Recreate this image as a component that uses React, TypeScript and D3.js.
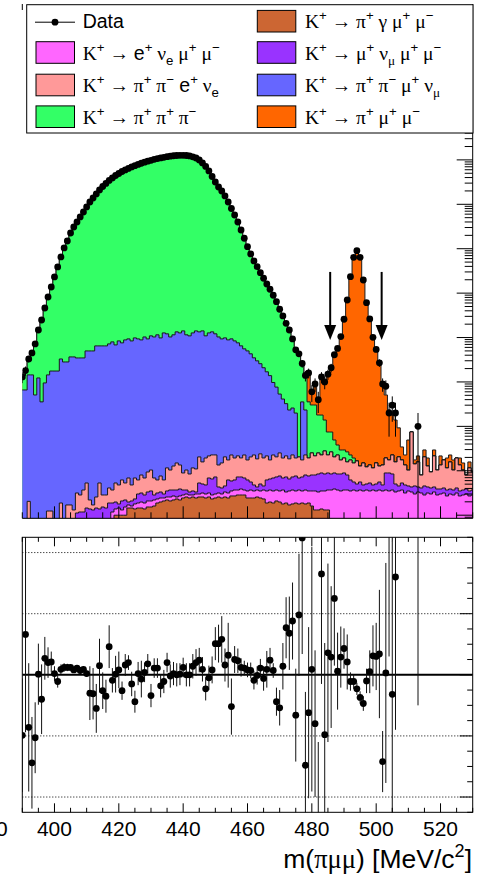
import React from 'react';
import * as d3 from 'd3';

// ---------- DATA (one bin per MeV/c^2, centred on 390 ... 530) ----------
const BIN_LO = 390;
const BIN_HI = 530;
const masses = d3.range(BIN_LO, BIN_HI + 1);

const dataCounts = [
  13, 18, 33, 45, 72, 148, 248, 463, 819, 1374,
  2312, 3882, 6517, 10400, 14930, 22600, 30800, 40000, 51900, 67100,
  87100, 112700, 138700, 171000, 210400, 251800, 294400, 344400, 391700, 445700,
  494300, 548200, 593000, 641200, 693500, 741300, 788900, 839500, 889200, 935400,
  979500, 1028000, 1071000, 1109000, 1145000, 1181000, 1213000, 1239000, 1256000, 1270000,
  1270000, 1256000, 1225000, 1175000, 1104000, 995000, 853000, 711000, 563000, 423000,
  318000, 245500, 199500, 154000, 112700, 80500, 57500, 40000, 26400, 17200,
  11100, 7620, 5300, 3945, 2885, 2160, 1607, 1222, 895, 641,
  433, 306, 209, 148, 93, 53, 43, 26, 14, 16,
  6, 9, 4, 13, 10, 15, 21, 41, 57, 105,
  258, 701, 2346, 6412, 9036, 6390, 1977, 609, 262, 101,
  54, 27, 9, 8, 2, 3, 2, 0, 0, 0,
  0, 0, 0, 1, 0, 0, 0, 0, 0, 0,
  0, 0, 0, 0, 0, 0, 0, 0, 0, 0,
  0,
];

const piGammaMuMu = [
  0, 0, 0, 0, 0, 0, 0, 0, 0, 0,
  0, 0, 0, 0, 0, 0, 0, 0, 0, 0,
  0, 0, 0, 0, 0, 0, 0, 0, 0, 0.010,
  0.010, 0.010, 0.010, 0.0145, 0.0145, 0.0138, 0.0145, 0.0145, 0.0138, 0.0153,
  0.0153, 0.0161, 0.0188, 0.0198, 0.0209, 0.022, 0.0209, 0.022, 0.0232, 0.022,
  0.0244, 0.0257, 0.0244, 0.0257, 0.0244, 0.0257, 0.0257, 0.0244, 0.0257, 0.0232,
  0.0244, 0.0257, 0.0244, 0.0257, 0.0244, 0.0271, 0.0271, 0.0285, 0.0285, 0.0285,
  0.0244, 0.0244, 0.0244, 0.0257, 0.0244, 0.0232, 0.0188, 0.0198, 0.0188, 0.0209,
  0.0198, 0.0179, 0.0188, 0.0170, 0.0179, 0.0188, 0.0179, 0.0188, 0.0179, 0.0188,
  0.0161, 0.0131, 0.0131, 0.0138, 0.0131, 0.0131, 0, 0, 0, 0,
  0, 0, 0, 0, 0, 0, 0, 0, 0, 0,
  0, 0, 0, 0, 0, 0, 0, 0, 0, 0,
  0, 0, 0, 0, 0, 0, 0, 0, 0, 0,
  0, 0, 0, 0, 0, 0, 0, 0, 0, 0,
  0,
];

const eNuMuMu = [
  0, 0, 0, 0, 0, 0, 0, 0, 0, 0,
  0, 0, 0, 0, 0, 0, 0, 0, 0, 0,
  0, 0, 0, 0, 0, 0, 0, 0, 0.0118, 0.0038,
  0.0045, 0.0031, 0.0053, 0.0025, 0.0016, 0.0041, 0.0043, 0.0053, 0.005, 0.0056,
  0.0056, 0.0059, 0.0044, 0.0046, 0.0035, 0.0037, 0.0048, 0.0051, 0.0025, 0.0051,
  0.0041, 0.0043, 0.0041, 0.0028, 0.0056, 0.0043, 0.0059, 0.0056, 0.0059, 0.0053,
  0.0056, 0.0059, 0.0056, 0.0076, 0.0072, 0.008, 0.0098, 0.0084, 0.0104, 0.0084,
  0.0107, 0.0125, 0.0107, 0.0112, 0.0107, 0.0137, 0.0163, 0.0171, 0.0163, 0.016,
  0.0153, 0.019, 0.0145, 0.0181, 0.019, 0.0163, 0.019, 0.0163, 0.019, 0.0163,
  0.019, 0.022, 0.0202, 0.0213, 0.022, 0.0238, 0.0369, 0.0389, 0.0369, 0.0351,
  0.0369, 0.0369, 0.0351, 0.0369, 0.0351, 0.0369, 0.0351, 0.0369, 0.0351, 0.0369,
  0.0351, 0.0369, 0.0351, 0.0369, 0.0351, 0.0369, 0.0333, 0.0351, 0.0369, 0.0316,
  0.0351, 0.0333, 0.030, 0.0333, 0.0316, 0.0285, 0.0316, 0.030, 0.0333, 0.0285,
  0.030, 0.0316, 0.0271, 0.030, 0.0285, 0.0316, 0.0271, 0.0285, 0.030, 0.0271,
  0.0285,
];

const muNuMuMu = [
  0, 0, 0, 0, 0, 0, 0, 0, 0, 0,
  0, 0, 0, 0, 0, 0, 0, 0.0112, 0.0118, 0.0118,
  0.0145, 0.0138, 0.0131, 0.0145, 0.0138, 0.0153, 0.0145, 0.0188, 0.007, 0.006,
  0.0034, 0.0078, 0.0067, 0.0028, 0.0048, 0.0053, 0.0112, 0.0118, 0.0097, 0.0124,
  0.0142, 0.0065, 0.0084, 0.0089, 0.0056, 0.0094, 0.0112, 0.0098, 0.0112, 0.0118,
  0.0084, 0.0069, 0.0048, 0.0066, 0.0033, 0.0231, 0.0188, 0.0179, 0.0372, 0.0369,
  0.0425, 0.0116, 0.011, 0.0122, 0.0305, 0.0238, 0.0252, 0.0356, 0.0336, 0.0319,
  0.027, 0.019, 0.0128, 0.0063, 0.0153, 0.0086, 0.027, 0.0285, 0.0337, 0.0356,
  0.0412, 0.0319, 0.0392, 0.0303, 0.0356, 0.0412, 0.0319, 0.0374, 0.0435, 0.0412,
  0.0453, 0.0453, 0.0514, 0.0541, 0.0496, 0.0523, 0.0478, 0.0503, 0.0478, 0.0496,
  0.0523, 0.0435, 0.027, 0.019, 0.0153, 0.019, 0.0128, 0.0135, 0.018, 0.011,
  0.0153, 0.019, 0.0128, 0.0523, 0.0541, 0.0478, 0.0171, 0.0104, 0.0162, 0.0163,
  0.0104, 0.0099, 0.0155, 0.0099, 0.0094, 0.017, 0.0116, 0.011, 0.0099, 0.0104,
  0.0089, 0.0094, 0.0098, 0.0089, 0.0084, 0.0094, 0.008, 0.0084, 0.0089, 0.008,
  0.0084,
];

const piPiENu = [
  0, 0, 0.0205, 0, 0, 0, 0, 0, 0.0124, 0.0124,
  0, 0, 0.0188, 0, 0.017, 0.017, 0.0131, 0.0204, 0.0167, 0.0251,
  0.0386, 0.0082, 0.0039, 0.0112, 0.0393, 0.0132, 0.014, 0.0222, 0.0181, 0.0333,
  0.030, 0.0412, 0.0311, 0.049, 0.027, 0.0456, 0.0321, 0.0488, 0.0403, 0.0606,
  0.0689, 0.0403, 0.0305, 0.043, 0.0321, 0.0809, 0.0671, 0.0911, 0.113, 0.0961,
  0.0523, 0.0671, 0.0514, 0.0809, 0.0767, 0.152, 0.108, 0.146, 0.147, 0.162,
  0.155, 0.0918, 0.109, 0.160, 0.113, 0.168, 0.132, 0.144, 0.122, 0.158,
  0.113, 0.149, 0.179, 0.142, 0.190, 0.149, 0.154, 0.110, 0.158, 0.133,
  0.176, 0.125, 0.144, 0.120, 0.155, 0.118, 0.136, 0.103, 0.147, 0.118,
  0.172, 0.136, 0.167, 0.138, 0.195, 0.138, 0.181, 0.116, 0.142, 0.090,
  0.105, 0.078, 0.113, 0.094, 0.116, 0.072, 0.102, 0.072, 0.082, 0.068,
  0.10, 0.072, 0.087, 0.105, 0.086, 0.142, 0.108, 0.160, 0.122, 0.087,
  0.058, 0.707, 0.097, 0.115, 0.039, 0.160, 0.085, 0.053, 0.173, 0.065,
  0.096, 0.134, 0.079, 0.119, 0.067, 0.153, 0.100, 0.067, 0.042, 0.081,
  0.057,
];

const piPiMuNu = [
  6.6, 6.6, 14.4, 14.4, 5.09, 12.3, 3.56, 9.5, 14.4, 17.6,
  17.6, 17.6, 32.9, 28.2, 28.2, 36.6, 36.6, 34.7, 34.7, 34.7,
  49.9, 49.9, 49.9, 64.8, 64.8, 64.8, 64.8, 71.9, 79.8, 68.2,
  83.9, 75.8, 88.4, 93.1, 83.9, 98, 93.1, 88.4, 103, 93.1,
  109, 103, 115, 98, 127, 121, 103, 115, 134, 127,
  141, 115, 109, 127, 141, 134, 141, 109, 127, 134,
  121, 103, 93.1, 98, 88.4, 93.1, 83.9, 75.8, 64.8, 55.4,
  49.9, 42.8, 34.7, 29.7, 25.5, 20.7, 16.7, 13.7, 9.5, 7.45,
  5.09, 3.93, 3.03, 2.15, 2.36, 1.8, 0, 3.38, 2.11, 0,
  0, 0, 0, 0, 0, 0, 0, 0, 0, 0,
  0, 0, 0, 0, 0, 0, 0, 0, 0, 0,
  0, 0, 0, 0, 0, 0, 0, 0, 0, 0,
  0, 0, 0, 0, 0, 0, 0, 0, 0, 0,
  0, 0, 0, 0, 0, 0, 0, 0, 0, 0,
  0,
];

const piPiPi = [
  6.3, 11.1, 18.5, 30.5, 66.5, 136, 244, 454, 805, 1356,
  2294, 3864, 6484, 10372, 14902, 22563, 30763, 39965, 51865, 67065,
  87050, 112650, 138650, 170935, 210335, 251735, 294335, 344328, 391620, 445600,
  494200, 548100, 592900, 641100, 693400, 741200, 788800, 839400, 889100, 935300,
  979400, 1027900, 1070900, 1108900, 1144900, 1180900, 1212900, 1238900, 1255900, 1269900,
  1269900, 1255900, 1224900, 1174900, 1103900, 994900, 852900, 710900, 562900, 422900,
  317900, 245400, 199400, 153900, 112600, 80400, 57420, 39920, 26335, 17145,
  11050, 7577, 5265, 3915, 2860, 2139, 1590, 1208, 885, 634,
  428, 302, 206, 145.7, 90.3, 50.5, 42.5, 22.7, 11.3, 3.37,
  2.78, 2.81, 1.55, 1.57, 1.11, 0.52, 0.48, 0.288, 0.154, 0.119,
  0.10, 0.108, 0.052, 0.044, 0, 0, 0, 0, 0, 0,
  0, 0, 0, 0, 0, 0, 0, 0, 0, 0,
  0, 0, 0, 0, 0, 0, 0, 0, 0, 0,
  0, 0, 0, 0, 0, 0, 0, 0, 0, 0,
  0,
];

const piMuMu = [
  0, 0, 0, 0, 0, 0, 0, 0, 0, 0,
  0, 0, 0, 0, 0, 0, 0, 0, 0, 0,
  0, 0, 0, 0, 0, 0, 0, 0, 0, 0,
  0, 0, 0, 0, 0, 0, 0, 0, 0, 0,
  0, 0, 0, 0, 0, 0, 0, 0, 0, 0,
  0, 0, 0, 0, 0, 0, 0, 0, 0, 0,
  0, 0, 0, 0, 0, 0, 0, 0, 0, 0,
  0, 0, 0, 0, 0, 0, 0, 0, 0, 0,
  0, 0, 0, 0, 0, 0, 0, 0, 0, 12.1,
  3.0, 5.5, 2.27, 11.4, 8.7, 14.35, 20.65, 40, 56.9, 104.2,
  257.3, 700.7, 2346, 6412, 9036, 6390, 1977, 609, 262, 101,
  54, 27, 8.4, 4.9, 2.17, 1.57, 1.23, 0.72, 0.169, 0.092,
  0.389, 0, 0.033, 0.058, 0, 0.089, 0.066, 0, 0.078, 0,
  0.081, 0, 0.078, 0.069, 0.071, 0, 0.059, 0.046, 0, 0.042,
  0,
];

// lower panel: (data - MC) / sigma per bin (null = no entry)
const pulls = [
  -0.99, 0.66, -0.86, -1.44, -1.03, 0.01, -0.40, 0.27, 0.20, 0.21,
  0.02, -0.11, 0.09, 0.12, 0.12, 0.12, 0.08, 0.11, 0.07, 0.09,
  0.02, -0.30, -0.31, -0.55, 0.15, -0.26, -0.35, 0.46, -0.09, 0.01,
  0.08, -0.26, 0.16, 0.20, -0.15, -0.44, 0.02, -0.07, 0.04, 0.18,
  -0.34, 0.11, 0.11, -0.18, -0.11, 0.20, -0.02, 0.02, 0.00, 0.01,
  0.12, 0.00, 0.00, 0.14, 0.20, 0.24, 0.09, -0.23, -0.05, 0.08,
  0.51, 0.51, 0.58, 0.16, 0.32, -0.52, 0.25, 0.23, 0.12, 0.11,
  0.08, 0.07, -0.09, -0.01, 0.11, -0.06, 0.09, 0.24, 0.07, -0.44,
  -0.54, 0.14, 0.77, 0.68, 0.88, -0.66, 0.98, 2.24, -1.48, -0.62,
  0.09, -0.80, -2.6, 1.65, -0.98, 0.36, 0.29, 1.25, 0.06, 0.29,
  0.43, 0.21, -0.11, -0.11, -0.23, -0.37, -0.47, -0.10, 0.05, 0.31,
  0.30, 0.34, -1.42, 0.03, 2.8, -0.32, 1.6, null, null, null,
  null, null, null, 3.5, null, null, null, null, null, null,
  null, null, null, null, null, null, null, null, null, null,
  null,
];

const pullErrors = [
  0.93, 1.6, 1.05, 0.75, 0.58, 0.5, 0.57, 0.35, 0.25, 0.17,
  0.12, 0.1, 0.08, 0.07, 0.06, 0.05, 0.05, 0.05, 0.05, 0.05,
  0.05, 0.44, 0.42, 0.4, 0.44, 0.3, 0.27, 0.35, 0.2, 0.3,
  0.3, 0.15, 0.18, 0.12, 0.2, 0.18, 0.19, 0.3, 0.16, 0.16,
  0.19, 0.16, 0.16, 0.19, 0.19, 0.16, 0.19, 0.19, 0.19, 0.18,
  0.16, 0.19, 0.19, 0.2, 0.22, 0.2, 0.2, 0.19, 0.2, 0.22,
  0.27, 0.31, 0.38, 0.27, 0.53, 0.46, 0.22, 0.2, 0.15, 0.12,
  0.12, 0.13, 0.15, 0.15, 0.15, 0.2, 0.3, 0.2, 0.12, 0.23,
  0.29, 0.38, 0.5, 0.6, 0.63, 0.76, 1.0, 1.9, 1.2, 1.4,
  2.0, 1.2, 1.5, 1.8, 1.5, 1.46, 1.16, 1.1, 0.63, 0.5,
  0.33, 0.45, 0.15, 0.12, 0.1, 0.1, 0.12, 0.2, 0.35, 0.5,
  0.55, 1.05, 0.5, 1.8, 2.5, 2.5, 2.5, null, null, null,
  null, null, null, 4, null, null, null, null, null, null,
  null, null, null, null, null, null, null, null, null, null,
  null,
];

const xTickLabels = [380, 400, 420, 440, 460, 480, 500, 520];
const signalWindow = [485.7, 501.7];
const arrowFrom = 3000;
const arrowTo = 88;
const pullGrid = [-2, -1, 1, 2];

// ---------- component definitions (stack order, bottom to top) ----------
const components = [
  { key: 'piGammaMuMu', values: piGammaMuMu, color: '#cc6633' },
  { key: 'eNuMuMu', values: eNuMuMu, color: '#ff66ff' },
  { key: 'muNuMuMu', values: muNuMuMu, color: '#9933ff' },
  { key: 'piPiENu', values: piPiENu, color: '#ff9999' },
  { key: 'piPiMuNu', values: piPiMuNu, color: '#6666ff' },
  { key: 'piPiPi', values: piPiPi, color: '#33ff66' },
  { key: 'piMuMu', values: piMuMu, color: '#ff6600' },
];

type Seg = { t: string; s?: 'sup' | 'sub'; g?: boolean };

const SANS = 'Liberation Sans, Arial, Helvetica, sans-serif';
const SERIF = 'Liberation Serif, Times New Roman, serif';

function Rich({ x, y, segs, size, anchor }: { x: number; y: number; segs: Seg[]; size: number; anchor?: string }) {
  let cur = 0;
  return (
    <text x={x} y={y} textAnchor={anchor || 'start'} style={{ whiteSpace: 'pre' }} fill="#000">
      {segs.map((sg, i) => {
        const target = sg.s === 'sup' ? -0.4 * size : sg.s === 'sub' ? 0.28 * size : 0;
        const dy = target - cur;
        cur = target;
        return (
          <tspan key={i} dy={dy} fontSize={sg.s ? size * 0.68 : size} fontFamily={sg.g ? SERIF : SANS}>
            {sg.t}
          </tspan>
        );
      })}
    </text>
  );
}

const K: Seg[] = [{ t: 'K', g: true }, { t: '+', s: 'sup' }, { t: ' \u2192 ', g: true }];
const legendEntries: { segs: Seg[]; color?: string; data?: boolean }[] = [
  { segs: [{ t: 'Data' }], data: true },
  { segs: [...K, { t: 'π', g: true }, { t: '+', s: 'sup' }, { t: ' γ ', g: true }, { t: 'μ', g: true }, { t: '+', s: 'sup' }, { t: ' μ', g: true }, { t: '−', s: 'sup' }], color: '#cc6633' },
  { segs: [...K, { t: 'e' }, { t: '+', s: 'sup' }, { t: ' ν', g: true }, { t: 'e', s: 'sub' }, { t: ' μ', g: true }, { t: '+', s: 'sup' }, { t: ' μ', g: true }, { t: '−', s: 'sup' }], color: '#ff66ff' },
  { segs: [...K, { t: 'μ', g: true }, { t: '+', s: 'sup' }, { t: ' ν', g: true }, { t: 'μ', s: 'sub', g: true }, { t: ' μ', g: true }, { t: '+', s: 'sup' }, { t: ' μ', g: true }, { t: '−', s: 'sup' }], color: '#9933ff' },
  { segs: [...K, { t: 'π', g: true }, { t: '+', s: 'sup' }, { t: ' π', g: true }, { t: '−', s: 'sup' }, { t: ' e' }, { t: '+', s: 'sup' }, { t: ' ν', g: true }, { t: 'e', s: 'sub' }], color: '#ff9999' },
  { segs: [...K, { t: 'π', g: true }, { t: '+', s: 'sup' }, { t: ' π', g: true }, { t: '−', s: 'sup' }, { t: ' μ', g: true }, { t: '+', s: 'sup' }, { t: ' ν', g: true }, { t: 'μ', s: 'sub', g: true }], color: '#6666ff' },
  { segs: [...K, { t: 'π', g: true }, { t: '+', s: 'sup' }, { t: ' π', g: true }, { t: '+', s: 'sup' }, { t: ' π', g: true }, { t: '−', s: 'sup' }], color: '#33ff66' },
  { segs: [...K, { t: 'π', g: true }, { t: '+', s: 'sup' }, { t: ' μ', g: true }, { t: '+', s: 'sup' }, { t: ' μ', g: true }, { t: '−', s: 'sup' }], color: '#ff6600' },
];

export default function App() {
  const W = 477;
  const H = 874;
  const X0 = 22.3;
  const X1 = 472.7;
  const T0 = 4;
  const T1 = 518.3;
  const B0 = 537.3;
  const B1 = 812.3;

  const x = d3.scaleLinear().domain([BIN_LO, BIN_HI]).range([X0, X1]);
  const yTop = d3.scaleLog().domain([Math.pow(10, -2.07), Math.pow(10, 9.51)]).range([T1, T0]);
  const yBot = d3.scaleLinear().domain([-2.25, 2.25]).range([B1, B0]);

  const rows = masses.map((m, i) => {
    const r: any = { m };
    components.forEach((c) => (r[c.key] = c.values[i]));
    return r;
  });
  const stack = d3.stack().keys(components.map((c) => c.key));
  const series = stack(rows);

  const base = T1 + 3;
  const yv = (v: number) => (v > 0 ? yTop(v) : base);
  const stepPath = (tops: number[]) => {
    let d = `M${x(BIN_LO - 0.5)},${base}`;
    tops.forEach((t, i) => {
      const m = masses[i];
      const y = yv(t);
      d += `L${x(m - 0.5)},${y}L${x(m + 0.5)},${y}`;
    });
    d += `L${x(BIN_HI + 0.5)},${base}Z`;
    return d;
  };

  const layers = series
    .map((s, j) => ({ color: components[j].color, d: stepPath(s.map((p) => p[1])) }))
    .reverse();

  // ticks
  const xMinor = d3.range(BIN_LO, BIN_HI + 1, 5);
  const logMajor: number[] = [];
  const logMinor: number[] = [];
  for (let e = -3; e <= 10; e++) {
    const b = Math.pow(10, e);
    logMajor.push(b);
    for (let j = 2; j <= 9; j++) logMinor.push(j * b);
  }
  const [ly0, ly1] = yTop.domain();
  const inLog = (v: number) => v >= ly0 && v <= ly1;
  const pullMinor = d3.range(-2.25, 2.26, 0.25);

  const rowY = [21.2, 52.5, 85, 116.7];

  return (
    <svg width={W} height={H} style={{ position: 'absolute', left: 0, top: 0, background: '#fff' }} xmlns="http://www.w3.org/2000/svg">
      <defs>
        <clipPath id="clipTop">
          <rect x={X0} y={T0} width={X1 - X0} height={T1 - T0} />
        </clipPath>
        <clipPath id="clipBot">
          <rect x={X0} y={B0} width={X1 - X0} height={B1 - B0} />
        </clipPath>
      </defs>
      <rect x={0} y={0} width={W} height={H} fill="#fff" />

      {/* ---------- top panel ---------- */}
      <g clipPath="url(#clipTop)">
        {layers.map((l, i) => (
          <path key={i} d={l.d} fill={l.color} stroke="#1a1a1a" strokeWidth={1} strokeLinejoin="miter" />
        ))}
        {masses.map((m, i) => {
          const n = dataCounts[i];
          if (n <= 0) return null;
          const e = Math.sqrt(n);
          const lo = n - e > 0 ? yTop(n - e) : base;
          return <line key={'e' + i} x1={x(m)} x2={x(m)} y1={yTop(n + e)} y2={lo} stroke="#000" strokeWidth={1} />;
        })}
        {masses.map((m, i) => {
          const n = dataCounts[i];
          if (n <= 0) return null;
          return <circle key={'d' + i} cx={x(m)} cy={yTop(n)} r={3.4} fill="#000" />;
        })}
      </g>

      {/* signal window arrows */}
      {signalWindow.map((m, i) => {
        const ax = x(m);
        const yA = yTop(arrowFrom);
        const yB = yTop(arrowTo);
        return (
          <g key={'a' + i}>
            <line x1={ax} x2={ax} y1={yA} y2={yB - 12} stroke="#000" strokeWidth={2} />
            <path d={`M${ax - 6},${yB - 15}L${ax + 6},${yB - 15}L${ax},${yB}Z`} fill="#000" />
          </g>
        );
      })}

      {/* top panel axes */}
      <line x1={X0} x2={X1} y1={T1} y2={T1} stroke="#000" strokeWidth={1} />
      <line x1={X1} x2={X1} y1={T0} y2={T1} stroke="#000" strokeWidth={1} />
      <line x1={X0} x2={X0} y1={T0} y2={T0 + 6} stroke="#000" strokeWidth={1} />
      {xMinor.map((m) => (
        <line key={'tb' + m} x1={x(m)} x2={x(m)} y1={T1} y2={T1 - (m % 20 === 0 ? 12 : 6)} stroke="#000" strokeWidth={1} />
      ))}
      {logMajor.filter(inLog).map((v) => (
        <line key={'lM' + v} x1={X1} x2={X1 - 16} y1={yTop(v)} y2={yTop(v)} stroke="#000" strokeWidth={1} />
      ))}
      {logMinor.filter(inLog).map((v) => (
        <line key={'lm' + v} x1={X1} x2={X1 - 8} y1={yTop(v)} y2={yTop(v)} stroke="#000" strokeWidth={1} />
      ))}

      {/* legend */}
      <rect x={26.7} y={4.7} width={446.3} height={128.3} fill="#fff" stroke="#000" strokeWidth={1} />
      {legendEntries.map((en, i) => {
        const col = i % 2;
        const row = Math.floor(i / 2);
        const cy = rowY[row];
        const bx = col === 0 ? 36 : 257.3;
        const tx = col === 0 ? 82.7 : 305;
        return (
          <g key={'lg' + i}>
            {en.data ? (
              <g>
                <line x1={35} x2={75} y1={cy + 1} y2={cy + 1} stroke="#000" strokeWidth={1} />
                <circle cx={55} cy={cy + 1} r={3.4} fill="#000" />
              </g>
            ) : (
              <rect x={bx} y={cy - 10.8} width={38.5} height={21.6} fill={en.color} stroke="#000" strokeWidth={1} />
            )}
            <Rich x={tx} y={cy + 7} segs={en.segs} size={19.5} />
          </g>
        );
      })}

      {/* ---------- lower panel ---------- */}
      <g clipPath="url(#clipBot)">
        {pullGrid.map((v) => (
          <line key={'g' + v} x1={X0} x2={X1} y1={yBot(v)} y2={yBot(v)} stroke="#000" strokeWidth={1} strokeDasharray="1 2" />
        ))}
        <line x1={X0} x2={X1} y1={yBot(0)} y2={yBot(0)} stroke="#000" strokeWidth={2} />
        {masses.map((m, i) => {
          const p = pulls[i];
          const e = pullErrors[i];
          if (p === null || e === null) return null;
          return <line key={'pe' + i} x1={x(m)} x2={x(m)} y1={yBot(p + e)} y2={yBot(p - e)} stroke="#111" strokeWidth={1} />;
        })}
        {masses.map((m, i) => {
          const p = pulls[i];
          if (p === null || Math.abs(p) > 2.25) return null;
          return <circle key={'pp' + i} cx={x(m)} cy={yBot(p)} r={3.4} fill="#000" />;
        })}
      </g>
      <rect x={X0} y={B0} width={X1 - X0} height={B1 - B0} fill="none" stroke="#000" strokeWidth={1} />
      {xMinor.map((m) => {
        const len = m % 20 === 0 ? 9 : 4.5;
        return (
          <g key={'bt' + m}>
            <line x1={x(m)} x2={x(m)} y1={B0} y2={B0 + len} stroke="#000" strokeWidth={1} />
            <line x1={x(m)} x2={x(m)} y1={B1} y2={B1 - len} stroke="#000" strokeWidth={1} />
          </g>
        );
      })}
      {pullMinor.map((v) => {
        const major = Math.abs(v - Math.round(v)) < 1e-6;
        return <line key={'pt' + v} x1={X1} x2={X1 - (major ? 13 : 5.5)} y1={yBot(v)} y2={yBot(v)} stroke="#000" strokeWidth={1} />;
      })}
      {xTickLabels.map((m) => (
        <text key={'xl' + m} x={x(m)} y={835.5} textAnchor="middle" fontFamily={SANS} fontSize={21} fill="#000">
          {m}
        </text>
      ))}
      <Rich
        x={472}
        y={868}
        anchor="end"
        size={26.5}
        segs={[{ t: 'm(' }, { t: 'πμμ', g: true }, { t: ') [MeV/c' }, { t: '2', s: 'sup' }, { t: ']' }]}
      />
    </svg>
  );
}
